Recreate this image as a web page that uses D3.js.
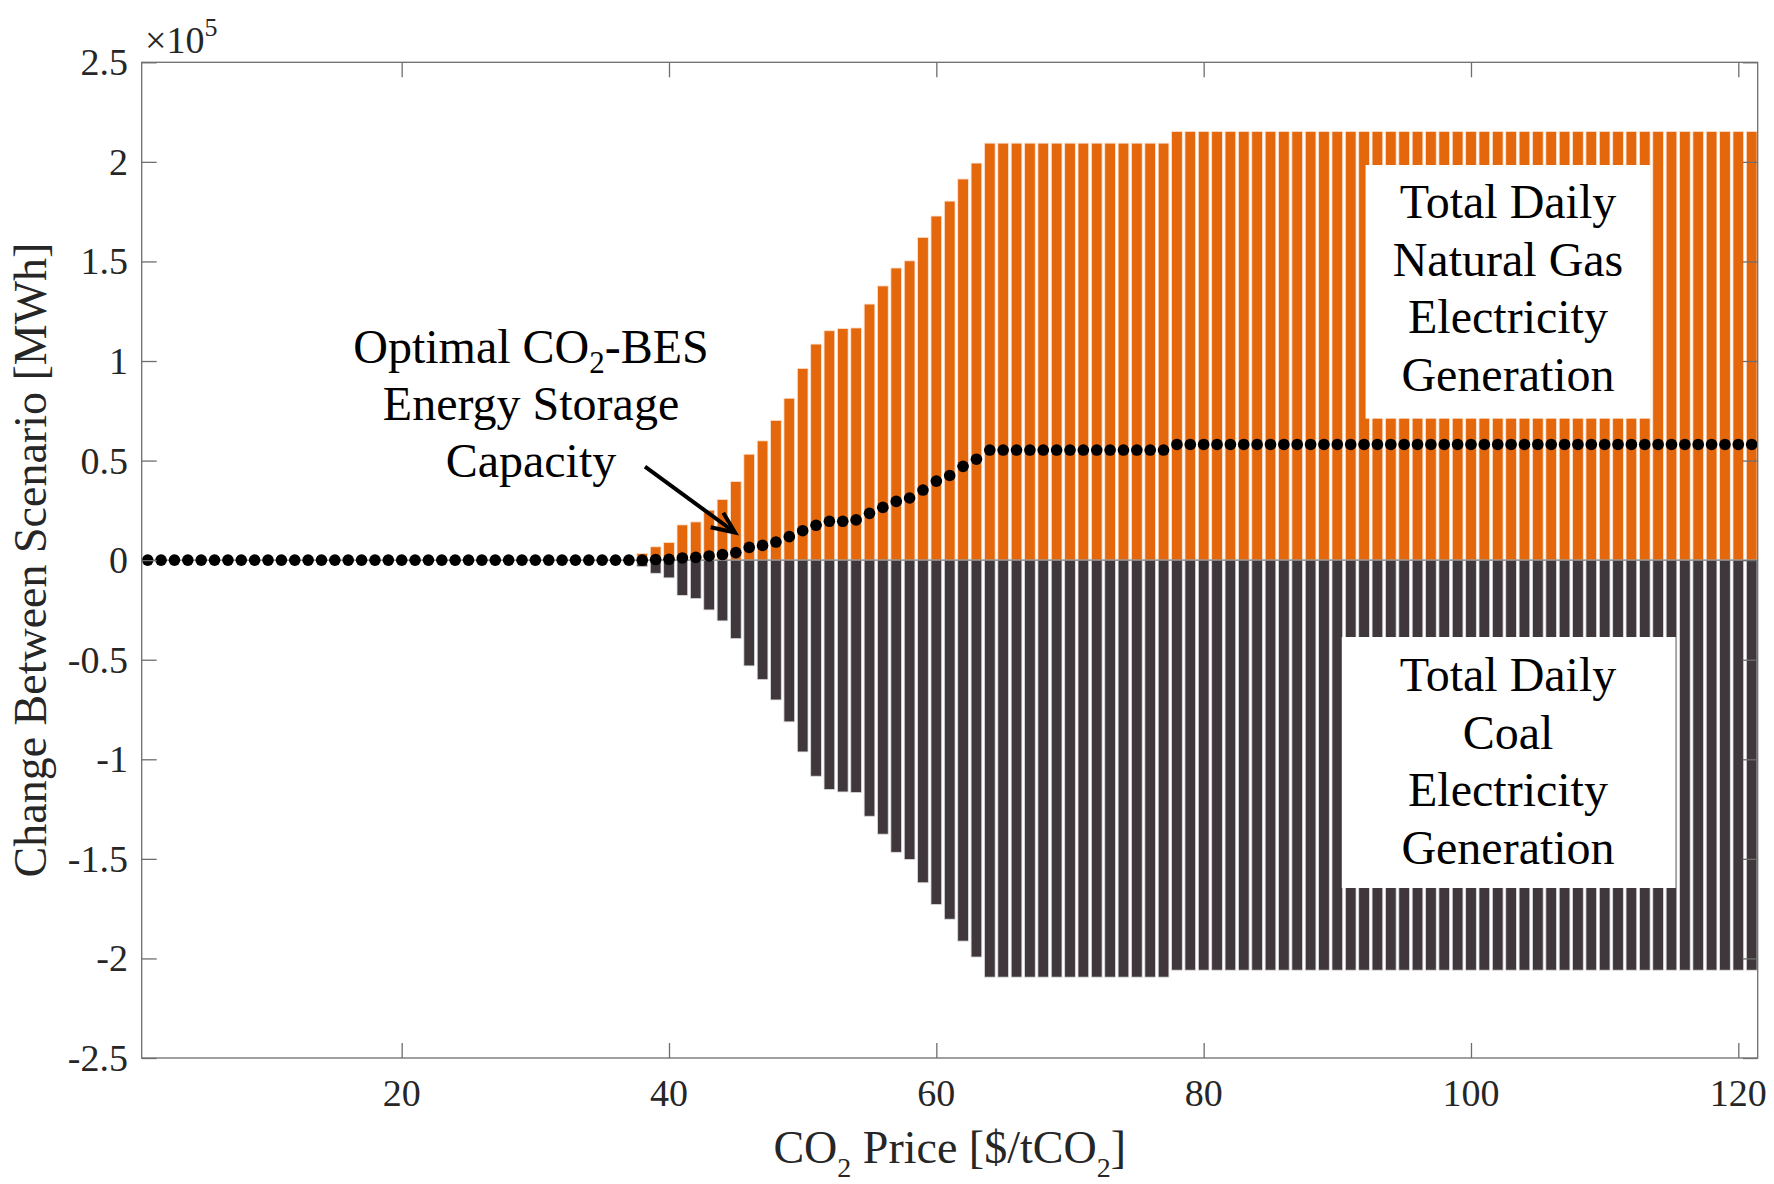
<!DOCTYPE html>
<html>
<head>
<meta charset="utf-8">
<script src="https://cdn.jsdelivr.net/npm/d3@7"></script>
<style>
  body { margin: 0; background: #fff; }
  text { font-family: "Liberation Serif", "Times New Roman", serif; }
</style>
</head>
<body>
<script>
let w = 1774;
let h = 1184;

// CO2 price [$ / tCO2]
let prices = d3.range(1, 122);

// change in total daily natural gas generation [MWh]
let gasChange = [
    0, 0, 0, 0, 0, 0, 0, 0, 0, 0,
    0, 0, 0, 0, 0, 0, 0, 0, 0, 0,
    0, 0, 0, 0, 0, 0, 0, 0, 0, 0,
    0, 0, 0, 0, 0, 0, 0, 3400, 6700, 8900,
    17700, 19200, 25100, 30500, 39500, 53200, 59900, 70200, 81300, 96300,
    108500, 115200, 116300, 116600, 128600, 137700, 146700, 150300, 162100, 172800,
    180300, 191400, 199400, 209400, 209400, 209400, 209400, 209400, 209400, 209400,
    209400, 209400, 209400, 209400, 209400, 209400, 209400, 215300, 215300, 215300,
    215300, 215300, 215300, 215300, 215300, 215300, 215300, 215300, 215300, 215300,
    215300, 215300, 215300, 215300, 215300, 215300, 215300, 215300, 215300, 215300,
    215300, 215300, 215300, 215300, 215300, 215300, 215300, 215300, 215300, 215300,
    215300, 215300, 215300, 215300, 215300, 215300, 215300, 215300, 215300, 215300,
    215300];

// change in total daily coal generation [MWh]
let coalChange = [
    0, 0, 0, 0, 0, 0, 0, 0, 0, 0,
    0, 0, 0, 0, 0, 0, 0, 0, 0, 0,
    0, 0, 0, 0, 0, 0, 0, 0, 0, 0,
    0, 0, 0, 0, 0, 0, 0, -3300, -6600, -8900,
    -17700, -19300, -25000, -30500, -39400, -53100, -60000, -70200, -81200, -96300,
    -108500, -115200, -116400, -116700, -128600, -137600, -146700, -150300, -162000, -172900,
    -180300, -191300, -199300, -209400, -209400, -209400, -209400, -209400, -209400, -209400,
    -209400, -209400, -209400, -209400, -209400, -209400, -209400, -205900, -205900, -205900,
    -205900, -205900, -205900, -205900, -205900, -205900, -205900, -205900, -205900, -205900,
    -205900, -205900, -205900, -205900, -205900, -205900, -205900, -205900, -205900, -205900,
    -205900, -205900, -205900, -205900, -205900, -205900, -205900, -205900, -205900, -205900,
    -205900, -205900, -205900, -205900, -205900, -205900, -205900, -205900, -205900, -205900,
    -205900];

// optimal CO2-BES energy storage capacity [MWh]
let storage = [
    0, 0, 0, 0, 0, 0, 0, 0, 0, 0,
    0, 0, 0, 0, 0, 0, 0, 0, 0, 0,
    0, 0, 0, 0, 0, 0, 0, 0, 0, 0,
    0, 0, 0, 0, 0, 0, 0, 0, 300, 400,
    1100, 1400, 2100, 2800, 3800, 6400, 7400, 9100, 11800, 14800,
    17500, 19500, 19500, 20200, 23500, 26500, 29500, 31200, 35200, 39700,
    42500, 47100, 50700, 55300, 55300, 55300, 55300, 55300, 55300, 55300,
    55300, 55300, 55300, 55300, 55300, 55300, 55300, 58100, 58100, 58100,
    58100, 58100, 58100, 58100, 58100, 58100, 58100, 58100, 58100, 58100,
    58100, 58100, 58100, 58100, 58100, 58100, 58100, 58100, 58100, 58100,
    58100, 58100, 58100, 58100, 58100, 58100, 58100, 58100, 58100, 58100,
    58100, 58100, 58100, 58100, 58100, 58100, 58100, 58100, 58100, 58100,
    58100];

let xTicks = [20, 40, 60, 80, 100, 120];
let yTicks = [-2.5, -2, -1.5, -1, -0.5, 0, 0.5, 1, 1.5, 2, 2.5];

let gasLabel = ["Total Daily", "Natural Gas", "Electricity", "Generation"];
let coalLabel = ["Total Daily", "Coal", "Electricity", "Generation"];

let pLeft = 141.7, pRight = 1757.7, pTop = 62.3, pBottom = 1058;
let axisColor = "#6e6e6e";
let tickLen = 15;

let xScale = d3.scaleLinear()
               .domain([0.55, 121.45])
               .range([pLeft, pRight]);
let yScale = d3.scaleLinear()
               .domain([-2.5e5, 2.5e5])
               .range([pBottom, pTop]);

let barW = xScale(0.8) - xScale(0);

let svg = d3.select("body")
            .append("svg")
            .attr("width", w)
            .attr("height", h);

let plot = svg.append("g");

// gas bars (above zero)
plot.selectAll("rect.gas")
    .data(gasChange)
    .enter()
    .append("rect")
    .attr("class", "gas")
    .attr("x", function(d, i) { return xScale(prices[i]) - barW / 2; })
    .attr("y", function(d) { return yScale(Math.max(d, 0)); })
    .attr("width", barW)
    .attr("height", function(d) { return Math.abs(yScale(d) - yScale(0)); })
    .attr("fill", "#e4670c")
    .attr("stroke", "#fbe3d4")
    .attr("stroke-width", 0.8);

// coal bars (below zero)
plot.selectAll("rect.coal")
    .data(coalChange)
    .enter()
    .append("rect")
    .attr("class", "coal")
    .attr("x", function(d, i) { return xScale(prices[i]) - barW / 2; })
    .attr("y", yScale(0))
    .attr("width", barW)
    .attr("height", function(d) { return Math.abs(yScale(d) - yScale(0)); })
    .attr("fill", "#40373c")
    .attr("stroke", "#dcdcdc")
    .attr("stroke-width", 0.8);

// baseline
plot.append("line")
    .attr("x1", pLeft).attr("x2", pRight)
    .attr("y1", yScale(0)).attr("y2", yScale(0))
    .attr("stroke", "#7a7a7a")
    .attr("stroke-width", 1.2);

// storage capacity dots
plot.selectAll("circle")
    .data(storage)
    .enter()
    .append("circle")
    .attr("cx", function(d, i) { return xScale(prices[i]); })
    .attr("cy", function(d) { return yScale(d); })
    .attr("r", 5.8)
    .attr("fill", "#000");

// axes box
svg.append("rect")
   .attr("x", pLeft).attr("y", pTop)
   .attr("width", pRight - pLeft).attr("height", pBottom - pTop)
   .attr("fill", "none")
   .attr("stroke", axisColor)
   .attr("stroke-width", 1.3);

let yTickVals = yTicks.map(function(d) { return d * 1e5; });
let xAxisB = d3.axisBottom(xScale).tickValues(xTicks).tickSizeInner(-tickLen).tickSizeOuter(0).tickFormat("");
let xAxisT = d3.axisTop(xScale).tickValues(xTicks).tickSizeInner(-tickLen).tickSizeOuter(0).tickFormat("");
let yAxisL = d3.axisLeft(yScale).tickValues(yTickVals).tickSizeInner(-tickLen).tickSizeOuter(0).tickFormat("");
let yAxisR = d3.axisRight(yScale).tickValues(yTickVals).tickSizeInner(-tickLen).tickSizeOuter(0).tickFormat("");

[[xAxisB, "translate(0," + pBottom + ")"], [xAxisT, "translate(0," + pTop + ")"],
 [yAxisL, "translate(" + pLeft + ",0)"], [yAxisR, "translate(" + pRight + ",0)"]].forEach(function(a) {
    let g = svg.append("g").attr("transform", a[1]).call(a[0]);
    g.select(".domain").remove();
    g.selectAll("line").attr("stroke", axisColor).attr("stroke-width", 1.3);
});

// tick labels
svg.selectAll("text.xt")
   .data(xTicks)
   .enter()
   .append("text")
   .attr("class", "xt")
   .text(function(d) { return d; })
   .attr("x", function(d) { return xScale(d); })
   .attr("y", 1106)
   .attr("text-anchor", "middle")
   .attr("font-size", "38px")
   .attr("fill", "#262626");

svg.selectAll("text.yt")
   .data(yTicks)
   .enter()
   .append("text")
   .attr("class", "yt")
   .text(function(d) { return d; })
   .attr("x", 128)
   .attr("y", function(d) { return yScale(d * 1e5) + 13; })
   .attr("text-anchor", "end")
   .attr("font-size", "38px")
   .attr("fill", "#262626");

// exponent
let ex = svg.append("text")
            .attr("x", 145)
            .attr("y", 53)
            .attr("font-size", "38px")
            .attr("fill", "#262626");
ex.append("tspan").text("\u00d710");
ex.append("tspan").text("5").attr("font-size", "26px").attr("dy", -17);

// axis labels
let xl = svg.append("text")
            .attr("x", (pLeft + pRight) / 2)
            .attr("y", 1163)
            .attr("text-anchor", "middle")
            .attr("font-size", "46px")
            .attr("fill", "#262626");
xl.append("tspan").text("CO");
xl.append("tspan").text("2").attr("font-size", "28px").attr("dy", 14);
xl.append("tspan").text(" Price [$/tCO").attr("dy", -14);
xl.append("tspan").text("2").attr("font-size", "28px").attr("dy", 14);
xl.append("tspan").text("]").attr("dy", -14);

svg.append("text")
   .attr("transform", "translate(46,560) rotate(-90)")
   .attr("text-anchor", "middle")
   .attr("font-size", "46px")
   .attr("fill", "#262626")
   .text("Change Between Scenario [MWh]");

// text boxes
function textBox(x, y, bw, bh, lines, cx, baseline0, step) {
    svg.append("rect")
       .attr("x", x).attr("y", y)
       .attr("width", bw).attr("height", bh)
       .attr("fill", "#fff");
    svg.selectAll(null)
       .data(lines)
       .enter()
       .append("text")
       .text(function(d) { return d; })
       .attr("x", cx)
       .attr("y", function(d, i) { return baseline0 + i * step; })
       .attr("text-anchor", "middle")
       .attr("font-size", "48px")
       .attr("fill", "#000");
}
textBox(1365.6, 165, 285, 253.6, gasLabel, 1508, 218.3, 57.5);
textBox(1341.8, 637, 333.8, 251, coalLabel, 1508, 691.3, 57.5);

// annotation
let an = svg.append("text")
            .attr("x", 531)
            .attr("y", 363)
            .attr("text-anchor", "middle")
            .attr("font-size", "48px")
            .attr("fill", "#000");
an.append("tspan").text("Optimal CO");
an.append("tspan").text("2").attr("font-size", "31px").attr("dy", 10);
an.append("tspan").text("-BES").attr("dy", -10);
svg.append("text")
   .attr("x", 531).attr("y", 420)
   .attr("text-anchor", "middle")
   .attr("font-size", "48px")
   .text("Energy Storage");
svg.append("text")
   .attr("x", 531).attr("y", 477)
   .attr("text-anchor", "middle")
   .attr("font-size", "48px")
   .text("Capacity");

// arrow
svg.append("line")
   .attr("x1", 645).attr("y1", 466.7)
   .attr("x2", 733).attr("y2", 531)
   .attr("stroke", "#000")
   .attr("stroke-width", 4);
svg.append("polyline")
   .attr("points", "710.7,527.3 735,532.5 723.3,512.7")
   .attr("fill", "none")
   .attr("stroke", "#000")
   .attr("stroke-width", 4)
   .attr("stroke-linejoin", "miter");
</script>
</body>
</html>
